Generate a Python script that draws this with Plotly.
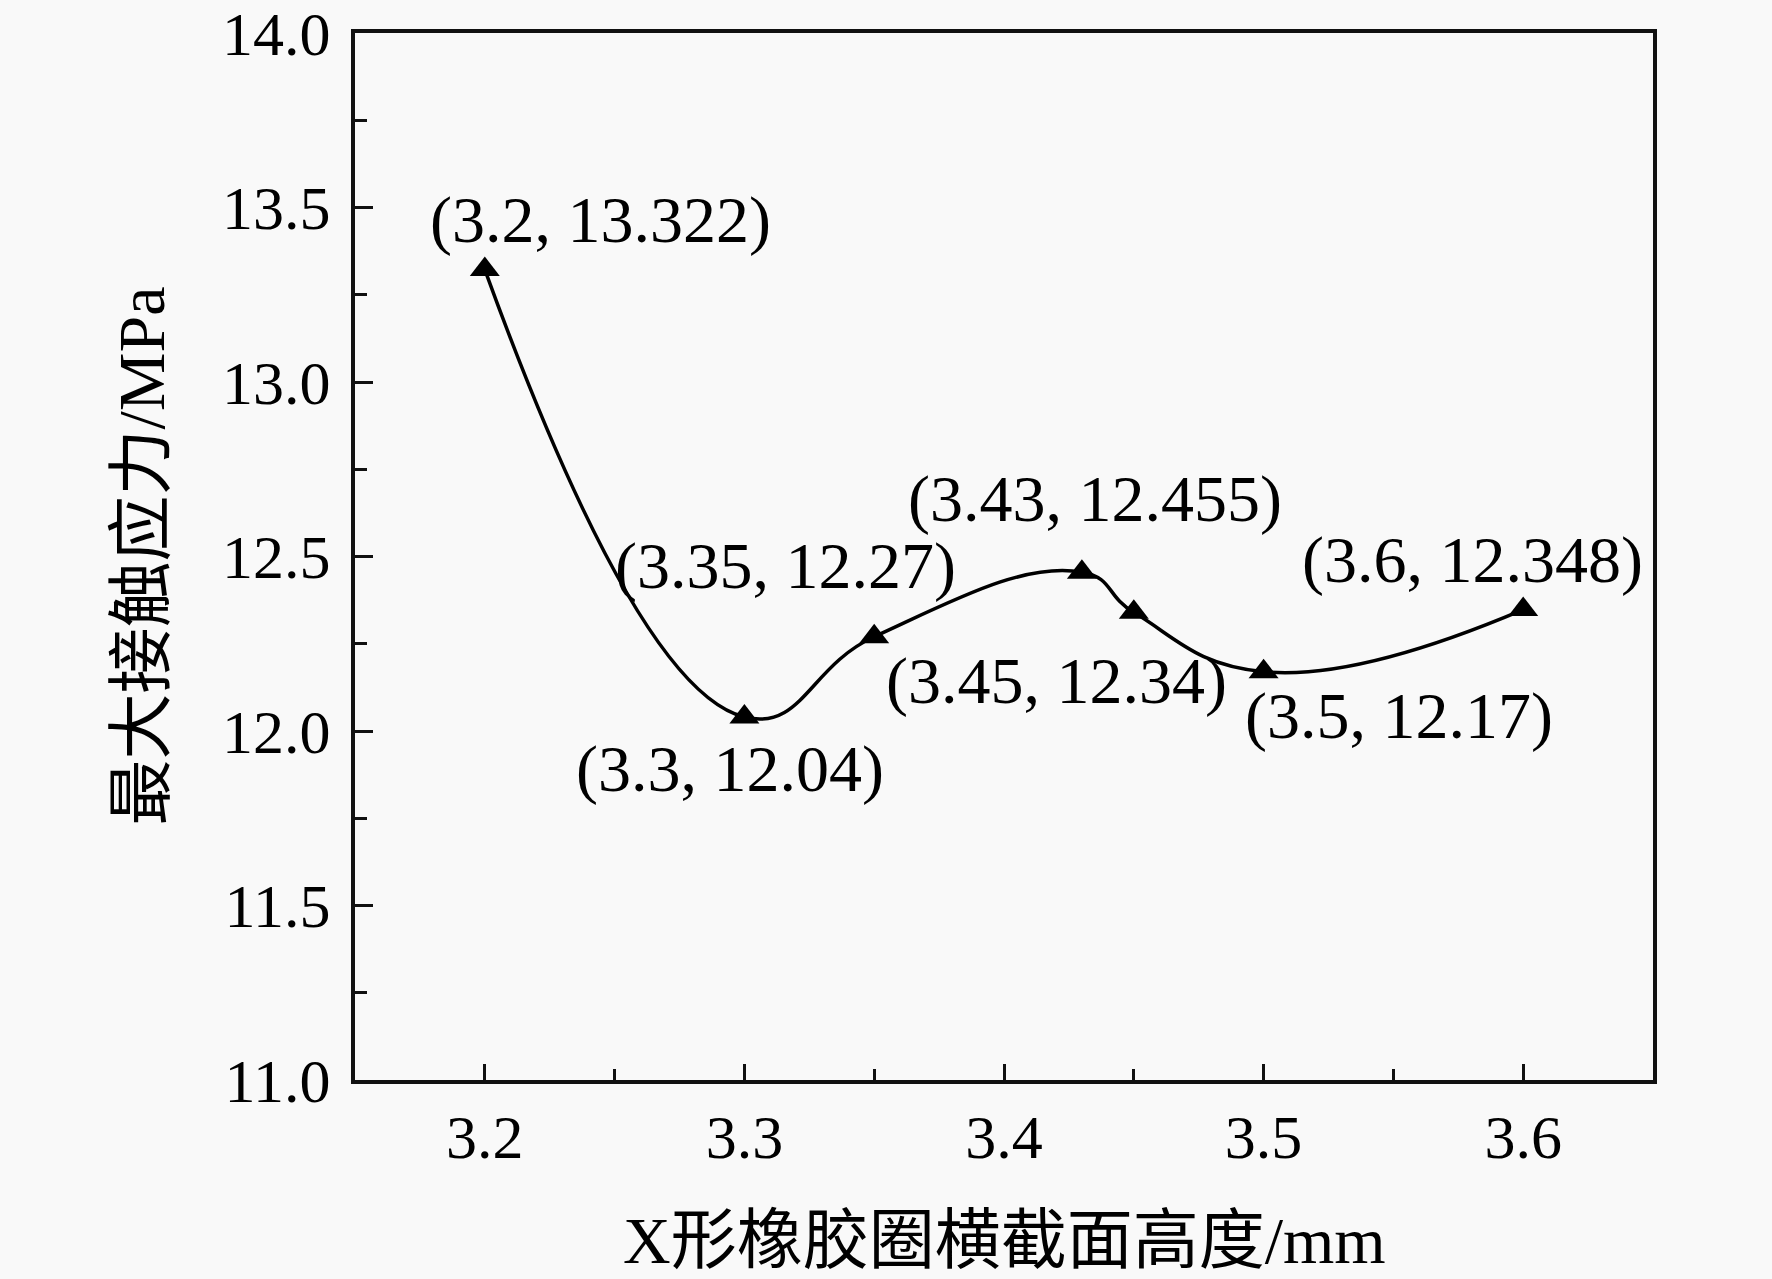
import plotly.graph_objects as go

heights = [3.2, 3.3, 3.35, 3.43, 3.45, 3.5, 3.6]
stress = [13.322, 12.04, 12.27, 12.455, 12.34, 12.17, 12.348]
point_labels = ["(3.2, 13.322)", "(3.3, 12.04)", "(3.35, 12.27)", "(3.43, 12.455)",
                "(3.45, 12.34)", "(3.5, 12.17)", "(3.6, 12.348)"]
x_title = "X形橡胶圈横截面高度/mm"
y_title = "最大接触应力/MPa"

# label pixel offsets (style only)
label_shifts = [(116, 50), (-14, -52), (-89, 71), (13, 73), (-77, -69), (135, -44), (-51, 50)]

FONT = "Liberation Serif, Times New Roman, Noto Sans CJK SC, serif"
BG = "#f9f9f9"

fig = go.Figure()
fig.add_trace(go.Scatter(
    x=heights, y=stress, mode="lines+markers",
    line=dict(color="black", width=3.5, shape="spline", smoothing=1.3),
    marker=dict(symbol="triangle-up", size=26, color="black"),
    showlegend=False,
))

for xv, yv, txt, (dx, dy) in zip(heights, stress, point_labels, label_shifts):
    fig.add_annotation(x=xv, y=yv, xref="x", yref="y", text=txt, showarrow=False,
                       xshift=dx, yshift=dy, xanchor="center", yanchor="middle",
                       font=dict(family=FONT, size=66, color="black"))

fig.add_annotation(x=0.5, y=0, xref="paper", yref="paper", text=x_title, showarrow=False,
                   xanchor="center", yanchor="middle", yshift=-160,
                   font=dict(family=FONT, size=66, color="black"))
fig.add_annotation(x=0, y=0.5, xref="paper", yref="paper", text=y_title, showarrow=False,
                   xanchor="center", yanchor="middle", xshift=-214, textangle=-90,
                   font=dict(family=FONT, size=66, color="black"))

axis_common = dict(
    showline=True, linecolor="#111111", linewidth=4, mirror=True,
    showgrid=False, zeroline=False, ticks="inside", tickcolor="#111111",
    tickwidth=3, tickfont=dict(family=FONT, size=62, color="black"),
    ticklabeloverflow="allow",
)

fig.update_xaxes(range=[3.15, 3.65], tickmode="array",
                 tickvals=[3.2, 3.3, 3.4, 3.5, 3.6],
                 ticktext=["3.2", "3.3", "3.4", "3.5", "3.6"],
                 ticklen=16, ticklabelstandoff=0,
                 minor=dict(tickvals=[3.25, 3.35, 3.45, 3.55], ticks="inside",
                            ticklen=11, tickwidth=3, tickcolor="#111111"),
                 **axis_common)
fig.update_yaxes(range=[11, 14], tickmode="array",
                 tickvals=[11.0, 11.5, 12.0, 12.5, 13.0, 13.5, 14.0],
                 ticktext=["11.0", "11.5", "12.0", "12.5", "13.0", "13.5", "14.0"],
                 ticklen=18, ticklabelstandoff=8,
                 minor=dict(tickvals=[11.25, 11.75, 12.25, 12.75, 13.25, 13.75],
                            ticks="inside", ticklen=12, tickwidth=3, tickcolor="#111111"),
                 **axis_common)

fig.update_layout(
    width=1772, height=1279,
    margin=dict(l=355, r=119, t=33, b=199, autoexpand=False),
    paper_bgcolor=BG, plot_bgcolor=BG,
)

fig.write_html("out.html", config={"displayModeBar": False},
               post_script="document.body.style.margin='0';document.body.style.background='#f9f9f9';")
